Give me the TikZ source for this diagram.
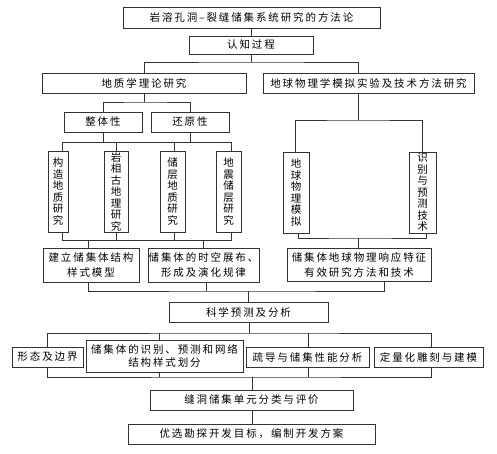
\documentclass[tikz,border=0pt]{standalone}
\usepackage{fontspec}
\setmainfont{Noto Sans CJK SC}[LetterSpace=18]
\newfontfamily\vfont{Noto Sans CJK SC}
\begin{document}
\begin{tikzpicture}[x=1pt,y=-1pt,
  box/.style={draw=black!80,line width=0.8pt,fill=white,inner sep=0pt,rectangle,font=\fontsize{10.5}{13}\selectfont,align=center},
  vbox/.style={draw=black!80,line width=0.8pt,fill=white,inner sep=0pt,rectangle},
  vtext/.style={inner sep=0pt,align=center,font=\vfont\fontsize{10.5}{11.5}\selectfont},
  conn/.style={draw=black!80,line width=0.8pt}]
\useasboundingbox (0,0) rectangle (497,454);
% ---------- junction coordinates ----------
\coordinate (j1) at (251,62);
\coordinate (dqt) at (358,73);
\coordinate (dqb) at (358,93);
\coordinate (j2) at (144,102);
\coordinate (a1) at (62,142);
\coordinate (a4) at (231,142);
\coordinate (t1) at (62,151);
\coordinate (t3) at (174,151);
\coordinate (t4) at (231,151);
\coordinate (u1) at (62,232);
\coordinate (u3) at (174,232);
\coordinate (u4) at (231,232);
\coordinate (b1) at (62,240);
\coordinate (b4) at (231,240);
\coordinate (m1t) at (88,248);
\coordinate (r1) at (358,120);
\coordinate (w5) at (298,233);
\coordinate (w6) at (426,233);
\coordinate (r2) at (358,238);
\coordinate (c1) at (88,282);
\coordinate (c2) at (206,282);
\coordinate (c3) at (384,281);
\coordinate (k1) at (248,291);
\coordinate (k2) at (249,333);
\coordinate (d1) at (47,347);
\coordinate (d2) at (159,340);
\coordinate (d3) at (308,347);
\coordinate (d4) at (431,347);
\coordinate (e1) at (47,367);
\coordinate (e2) at (159,372);
\coordinate (e3) at (308,367);
\coordinate (e4) at (431,367);
\coordinate (k3) at (252,377);
% ---------- connectors (drawn first, boxes on top) ----------
\path[conn] (251,28) -- (j1);
\path[conn] (0,0) (144,73) |- (j1) -| (dqt);
\path[conn] (dqb) -- (r1);
\path[conn] (144,93) -- (j2);
\path[conn] (103,112) |- (j2) -| (190,112);
\path[conn] (103,132) -- (103,142);
\path[conn] (190,132) -- (190,142);
\path[conn] (t1) -- (a1) -- (a4) -- (t4);
\path[conn] (116,151) -- (116,142);
\path[conn] (t3) -- (t3 |- a1);
\path[conn] (u1) -- (b1) -- (b4) -- (u4);
\path[conn] (116,232) -- (116,240);
\path[conn] (u3) -- (u3 |- b1);
\path[conn] (m1t) -- (m1t |- b1);
\path[conn] (203,248) -- (203,240);
\path[conn] (295,152) |- (r1) -| (422,152);
\path[conn] (w5) |- (r2) -| (w6);
\path[conn] (r2) -- (358,248);
\path[conn] (c1) |- (k1) -| (c3);
\path[conn] (c2) -- (c2 |- k1);
\path[conn] (k1) -- (248,302);
\path[conn] (249,322) -- (k2);
\path[conn] (d1) |- (k2) -| (d4);
\path[conn] (d2) -- (d2 |- k2);
\path[conn] (d3) -- (d3 |- k2);
\path[conn] (e1) |- (k3) -| (e4);
\path[conn] (e2) -- (e2 |- k3);
\path[conn] (e3) -- (e3 |- k3);
\path[conn] (k3) -- (252,390);
\path[conn] (252,410) -- (252,424);
% ---------- boxes ----------
\node[box,minimum width=257pt,minimum height=21pt] (title) at (251.5,17.5) {岩溶孔洞\,–\,裂缝储集系统研究的方法论};
\node[box,minimum width=124pt,minimum height=18pt] (rz) at (251,45) {认知过程};
\node[box,minimum width=204pt,minimum height=20pt] (dz) at (144,83) {地质学理论研究};
\node[box,minimum width=211pt,minimum height=20pt] (dq) at (368.5,83) {地球物理学模拟实验及技术方法研究};
\node[box,minimum width=78pt,minimum height=20pt] (zt) at (103,122) {整体性};
\node[box,minimum width=78pt,minimum height=20pt] (hy) at (190,122) {还原性};
\node[vbox,minimum width=20pt,minimum height=81pt] (v1) at (58,191.5) {};
\node[vbox,minimum width=24pt,minimum height=81pt] (v2) at (116,191.5) {};
\node[vbox,minimum width=25pt,minimum height=81pt] (v3) at (172.5,191.5) {};
\node[vbox,minimum width=25pt,minimum height=81pt] (v4) at (228.5,191.5) {};
\node[vbox,minimum width=26pt,minimum height=81pt] (v5) at (296,192.5) {};
\node[vbox,minimum width=27pt,minimum height=81pt] (v6) at (422.5,192.5) {};
\node[vtext] (v1t) at (v1) {构\\造\\地\\质\\研\\究};
\node[vtext] (v2t) at (v2) {岩\\相\\古\\地\\理\\研\\究};
\node[vtext] (v3t) at (v3) {储\\层\\地\\质\\研\\究};
\node[vtext] (v4t) at (v4) {地\\震\\储\\层\\研\\究};
\node[vtext] (v5t) at (v5) {地\\球\\物\\理\\模\\拟};
\node[vtext] (v6t) at (v6) {识\\别\\与\\预\\测\\技\\术};
\node[box,minimum width=96pt,minimum height=34pt,font=\fontsize{10.5}{15}\selectfont] (m1) at (91,265) {建立储集体结构\\样式模型};
\node[box,minimum width=111pt,minimum height=34pt,font=\fontsize{10.5}{15}\selectfont] (m2) at (203.5,265) {储集体的时空展布、\\形成及演化规律};
\node[box,minimum width=144pt,minimum height=33pt,font=\fontsize{10.5}{15}\selectfont] (m3) at (359,264.5) {储集体地球物理响应特征\\有效研究方法和技术};
\node[box,minimum width=159pt,minimum height=20pt] (kx) at (248.5,312) {科学预测及分析};
\node[box,minimum width=71pt,minimum height=20pt] (p1) at (47.5,357) {形态及边界};
\node[box,minimum width=157pt,minimum height=32pt,font=\fontsize{10.5}{13}\selectfont] (p2) at (164.5,356) {储集体的识别、预测和网络\\结构样式划分};
\node[box,minimum width=123pt,minimum height=20pt] (p3) at (307.5,357) {疏导与储集性能分析};
\node[box,minimum width=109pt,minimum height=20pt] (p4) at (428.5,357) {定量化雕刻与建模};
\node[box,minimum width=203pt,minimum height=20pt] (fd) at (251.5,400) {缝洞储集单元分类与评价};
\node[box,minimum width=247pt,minimum height=20pt] (yx) at (251.5,434) {优选勘探开发目标，编制开发方案};
\end{tikzpicture}
\end{document}
